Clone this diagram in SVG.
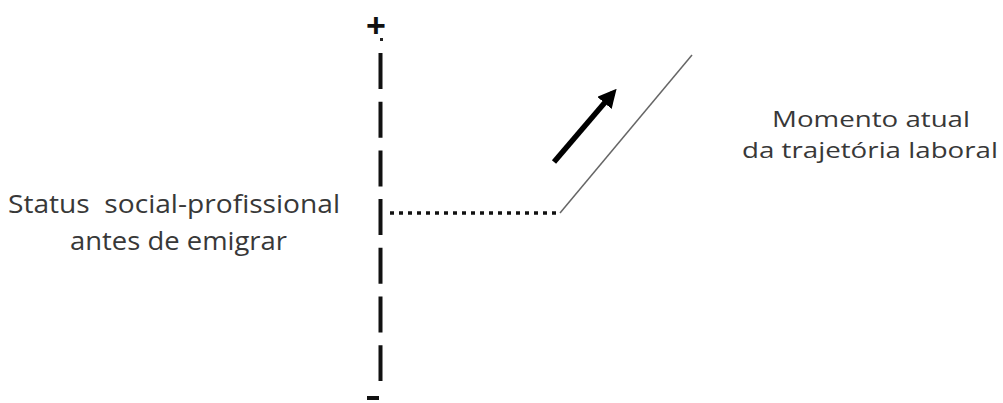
<svg xmlns="http://www.w3.org/2000/svg" width="1003" height="403" viewBox="0 0 1003 403">
<style>
.lbl{font-family:"Open Sans","Liberation Sans",sans-serif;font-size:25px;fill:#383838;}
.lbl2{font-family:"Open Sans","Liberation Sans",sans-serif;font-size:22px;fill:#383838;}
.sign{font-family:"Liberation Sans",sans-serif;font-size:34px;fill:#111;font-weight:bold;}
.axis{stroke:#111;stroke-width:4;fill:none;}
</style>
<defs>
<marker id="ah" viewBox="0 0 10 10" refX="7" refY="5" markerWidth="3.4" markerHeight="3.4" orient="auto" markerUnits="strokeWidth">
<path d="M0,0 L10,5 L0,10 z" fill="#000"/>
</marker>
</defs>
<rect width="1003" height="403" fill="#fff"/>
<g id="axis">
<line class="axis" x1="380.5" y1="53" x2="380.5" y2="381" stroke-dasharray="36 12.7"/>
<rect x="380" y="38" width="3" height="3" fill="#222"/>
<text class="sign" x="376" y="37" text-anchor="middle">+</text>
<rect x="367" y="396" width="12" height="4" fill="#111"/>
</g>
<g id="label-before">
<text class="lbl" x="8" y="213" textLength="332" lengthAdjust="spacingAndGlyphs" xml:space="preserve">Status  social-profissional</text>
<text class="lbl" x="70" y="250" textLength="217" lengthAdjust="spacingAndGlyphs">antes de emigrar</text>
</g>
<g id="label-now">
<text class="lbl2" x="772" y="127" textLength="198" lengthAdjust="spacingAndGlyphs">Momento atual</text>
<text class="lbl2" x="742" y="158" textLength="256" lengthAdjust="spacingAndGlyphs">da trajetória laboral</text>
</g>
<g id="connectors">
<line x1="390" y1="213" x2="560" y2="213" stroke="#111" stroke-width="3.5" stroke-dasharray="4 5"/>
<line x1="560" y1="213" x2="692" y2="55" stroke="#666" stroke-width="1.5"/>
<line x1="554" y1="162" x2="613" y2="93" stroke="#000" stroke-width="5.5" marker-end="url(#ah)"/>
</g>
</svg>
